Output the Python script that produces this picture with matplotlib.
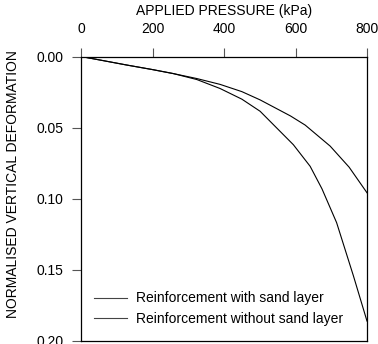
import matplotlib
matplotlib.use("Agg")
import matplotlib.pyplot as plt
from matplotlib.lines import Line2D

plt.rcParams['font.family'] = ['Liberation Sans', 'DejaVu Sans']

pressure_with = [0, 60, 128, 200, 258, 324, 389, 450, 501, 586, 627, 697, 750, 800]
deform_with = [0, 0.0028, 0.0060, 0.0092, 0.0120, 0.0155, 0.0196, 0.0247, 0.0305, 0.0418, 0.0482, 0.0630, 0.0778, 0.0958]

pressure_without = [0, 60, 128, 200, 258, 324, 389, 450, 501, 594, 641, 674, 715, 762, 800]
deform_without = [0, 0.0028, 0.0060, 0.0092, 0.0120, 0.0162, 0.0225, 0.0300, 0.0385, 0.0620, 0.0772, 0.0930, 0.1168, 0.1542, 0.1860]

x_ticks = [0, 200, 400, 600, 800]
y_ticks = [0.00, 0.05, 0.10, 0.15, 0.20]
labels = ["Reinforcement with sand layer", "Reinforcement without sand layer"]

fig = plt.figure(figsize=(3.78, 3.44), dpi=100)
ax = fig.add_axes([81/378, 1-341/344, (367-81)/378, (341-56.5)/344])

ax.plot(pressure_with, deform_with, color='black', lw=0.8)
ax.plot(pressure_without, deform_without, color='black', lw=0.8)

ax.set_xlim(0, 800)
ax.set_ylim(0.20, 0.0)
ax.xaxis.tick_top()
ax.xaxis.set_label_position('top')
ax.set_xticks(x_ticks)
ax.set_yticks(y_ticks)
ax.set_yticklabels([f"{v:.2f}" for v in y_ticks])
ax.tick_params(axis='both', direction='out', length=6.5, width=0.8, color='#555555',
               labelsize=10)
ax.tick_params(axis='x', pad=8)
ax.tick_params(axis='y', pad=6)
ax.set_xlabel("APPLIED PRESSURE (kPa)", fontsize=10, labelpad=5)
ax.set_ylabel("NORMALISED VERTICAL DEFORMATION", fontsize=10)
ax.yaxis.set_label_coords(-0.215, 0.55)
for s in ax.spines.values():
    s.set_linewidth(0.9)
    s.set_color('black')

handles = [Line2D([0], [0], color='#444444', lw=0.8), Line2D([0], [0], color='#444444', lw=0.8)]
ax.legend(handles, labels, loc='lower left', frameon=False, fontsize=10,
          handlelength=2.4, handletextpad=0.65, labelspacing=0.45,
          bbox_to_anchor=(0.0, 0.01))

fig.savefig("out.png", dpi=100)
